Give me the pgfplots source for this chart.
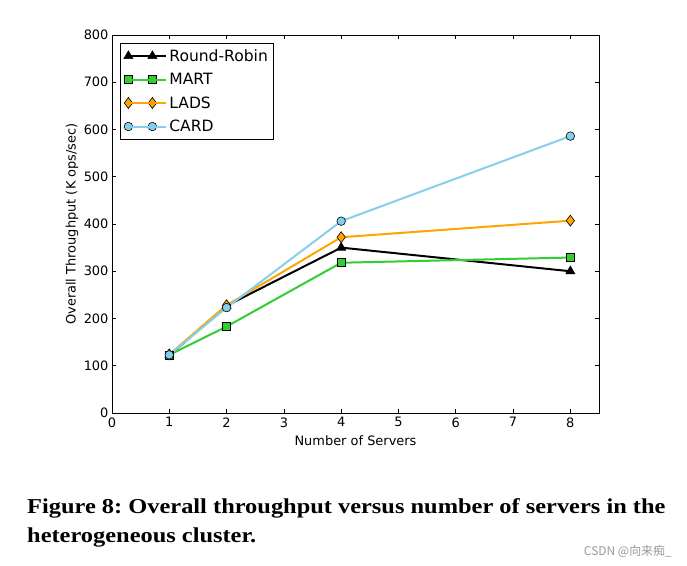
\documentclass[border=0pt]{standalone}
\usepackage{pgfplots}
\pgfplotsset{compat=1.18}
\usepackage{fontspec}
\setmainfont{DejaVu Sans}
\newfontfamily\capfont[FakeStretch=1.15]{Liberation Serif}
\newfontfamily\cjk{Noto Sans CJK SC}
\usetikzlibrary{calc}
\definecolor{mart}{HTML}{32CD32}
\definecolor{lads}{HTML}{FFA500}
\definecolor{card}{HTML}{87CEEB}
\frenchspacing
\begin{document}
\begin{tikzpicture}
\begin{axis}[
  name=ax,
  scale only axis,
  width=487bp, height=378bp,
  xmin=0, xmax=8.5, ymin=0, ymax=800,
  xtick={0,1,...,8}, ytick={0,100,...,800},
  tick align=inside,
  major tick length=4bp,
  tick style={black, line width=0.6bp},
  axis line style={line width=0.8bp},
  /pgf/number format/assume math mode=true,
  ticklabel style={font=\fontsize{13}{15}\selectfont},
  xticklabel style={yshift=-1bp},
  xlabel={Number of Servers},
  ylabel={Overall Throughput (K ops/sec)},
  every axis x label/.style={at={(axis description cs:0.5,0)}, anchor=center, yshift=-28bp, font=\fontsize{13}{15}\selectfont},
  every axis y label/.style={at={(axis description cs:0,0.5)}, anchor=center, xshift=-40bp, rotate=90, font=\fontsize{13}{15}\selectfont},
  legend style={at={(0,1)}, anchor=north west, xshift=8bp, yshift=-8bp,
    font=\fontsize{15.6}{18}\selectfont, draw=black, line width=0.8bp,
    row sep=6.5bp, inner xsep=3.5bp, inner ysep=4bp},
  legend cell align=left,
  legend image code/.code={\draw[#1] plot coordinates {(0bp,0bp) (24bp,0bp)}; \path (0bp,0bp) -- (38bp,0bp);},
  every axis plot/.append style={line width=2bp},
]
\addplot[black, mark=triangle*, mark size=5.2bp, mark options={fill=black, draw=black, line width=0.6bp}]
  coordinates {(1,122) (2,227) (4,350) (8,300)};
\addlegendentry{Round-Robin}
\addplot[mart, mark=square*, mark size=4bp, mark options={fill=mart, draw=black, line width=0.6bp}]
  coordinates {(1,123) (2,183) (4,318) (8,329)};
\addlegendentry{MART}
\addplot[lads, mark=diamond*, mark size=5.5bp, mark options={fill=lads, draw=black, line width=0.6bp}]
  coordinates {(1,124) (2,228) (4,372) (8,407)};
\addlegendentry{LADS}
\addplot[card, mark=*, mark size=4.3bp, mark options={fill=card, draw=black, line width=0.6bp}]
  coordinates {(1,123) (2,223) (4,406) (8,586)};
\addlegendentry{CARD}
\end{axis}
\node[anchor=base west, inner sep=0pt, font=\capfont\bfseries\fontsize{21.3}{24}\selectfont]
  at ($(ax.south west)+(-85bp,-101bp)$) {Figure 8: Overall throughput versus number of servers in the};
\node[anchor=base west, inner sep=0pt, font=\capfont\bfseries\fontsize{21.3}{24}\selectfont]
  at ($(ax.south west)+(-85bp,-130bp)$) {heterogeneous cluster.};
\node[anchor=base east, inner sep=0pt, text=black!40, font=\cjk\fontsize{12}{14}\selectfont]
  at ($(ax.south west)+(560bp,-143bp)$) {CSDN @向来痴\_};
\pgfresetboundingbox
\path[use as bounding box] ($(ax.south west)+(-112bp,-153bp)$) rectangle ($(ax.north east)+(88bp,35bp)$);
\end{tikzpicture}
\end{document}
